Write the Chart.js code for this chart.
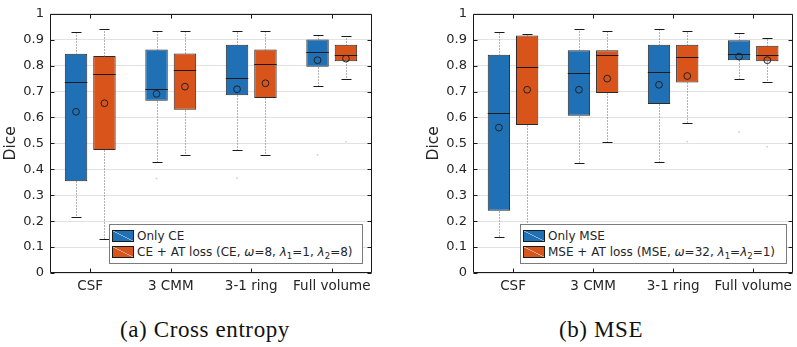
<!DOCTYPE html>
<html><head><meta charset="utf-8">
<script src="https://cdn.jsdelivr.net/npm/chart.js@4/dist/chart.umd.min.js"></script>
<style>
body{margin:0;background:#fff;width:797px;height:347px;position:relative;overflow:hidden;}
canvas{position:absolute;top:0;}
#ca{left:0px;}
#cb{left:423px;}
.legend{position:absolute;background:#fff;border:1px solid #7c7c7c;box-sizing:border-box;font:12px "DejaVu Sans";color:#262626;}
.row{position:absolute;left:2px;height:16px;line-height:16px;white-space:nowrap;}
.sw{position:absolute;left:0;top:2px;width:22px;height:12px;border:1px solid #1a1a1a;box-sizing:border-box;}
.lbl{position:absolute;left:25px;top:0;}
.lbl sub{font-size:8.5px;vertical-align:-3px;line-height:0;}
.lbl i{font-style:italic;}
.cap{position:absolute;top:317px;font:23px "Liberation Serif";letter-spacing:0.6px;color:#111;text-align:center;width:300px;white-space:nowrap;}
</style>
</head><body>
<canvas id="ca" width="400" height="300"></canvas>
<canvas id="cb" width="374" height="300"></canvas>
<div class="legend" id="lga" style="left:109px;top:224px;width:254px;height:40px"></div>
<div class="legend" id="lgb" style="left:520px;top:224px;width:267px;height:40px"></div>
<div class="cap" id="capa" style="left:55px"></div>
<div class="cap" id="capb" style="left:451px"></div>
<script>
const categories = ['CSF', '3 CMM', '3-1 ring', 'Full volume'];
const yTicks = [0, 0.1, 0.2, 0.3, 0.4, 0.5, 0.6, 0.7, 0.8, 0.9, 1];
const captions = ['(a) Cross entropy', '(b) MSE'];
const legendCE = ['Only CE', 'CE + AT loss (CE, <i>ω</i>=8, <i>λ</i><sub>1</sub>=1, <i>λ</i><sub>2</sub>=8)'];
const legendMSE = ['Only MSE', 'MSE + AT loss (MSE, <i>ω</i>=32, <i>λ</i><sub>1</sub>=<i>λ</i><sub>2</sub>=1)'];

// (a) Cross entropy — Only CE
const ceOnlyQ1   = [0.354, 0.665, 0.686, 0.796];
const ceOnlyQ3   = [0.846, 0.862, 0.881, 0.901];
const ceOnlyMed  = [0.735, 0.709, 0.754, 0.851];
const ceOnlyMean = [0.622, 0.691, 0.709, 0.821];
const ceOnlyLo   = [0.217, 0.427, 0.473, 0.721];
const ceOnlyHi   = [0.930, 0.934, 0.934, 0.918];
const ceOnlyOut  = [[], [0.365], [0.366], [0.456]];
// (a) Cross entropy — CE + AT loss
const ceAtQ1   = [0.475, 0.630, 0.675, 0.817];
const ceAtQ3   = [0.837, 0.847, 0.862, 0.881];
const ceAtMed  = [0.769, 0.784, 0.806, 0.840];
const ceAtMean = [0.655, 0.719, 0.732, 0.827];
const ceAtLo   = [0.132, 0.454, 0.454, 0.747];
const ceAtHi   = [0.941, 0.934, 0.934, 0.915];
const ceAtOut  = [[], [], [], [0.507]];
// (b) MSE — Only MSE
const mseOnlyQ1   = [0.240, 0.607, 0.652, 0.821];
const mseOnlyQ3   = [0.842, 0.859, 0.881, 0.898];
const mseOnlyMed  = [0.619, 0.772, 0.776, 0.844];
const mseOnlyMean = [0.561, 0.707, 0.726, 0.835];
const mseOnlyLo   = [0.139, 0.424, 0.427, 0.750];
const mseOnlyHi   = [0.930, 0.941, 0.941, 0.926];
const mseOnlyOut  = [[], [], [], [0.544]];
// (b) MSE — MSE + AT loss
const mseAtQ1   = [0.571, 0.694, 0.735, 0.817];
const mseAtQ3   = [0.916, 0.859, 0.881, 0.877];
const mseAtMed  = [0.795, 0.840, 0.832, 0.840];
const mseAtMean = [0.707, 0.750, 0.760, 0.821];
const mseAtLo   = [0.110, 0.507, 0.577, 0.735];
const mseAtHi   = [0.922, 0.934, 0.934, 0.907];
const mseAtOut  = [[], [], [0.507], [0.487]];

const BLUE = '#1f70b5', ORANGE = '#d9541a', TXT = '#262626';

const boxPlugin = {
  id: 'boxDecor',
  afterDatasetsDraw(chart) {
    const ctx = chart.ctx, ys = chart.scales.y;
    chart.data.datasets.forEach((ds, di) => {
      const meta = chart.getDatasetMeta(di);
      const s = ds.boxStats;
      meta.data.forEach((bar, i) => {
        const x = Math.round(bar.x) + 0.5, w = bar.width;
        const py = v => Math.round(ys.getPixelForValue(v)) + 0.5;
        ctx.save();
        ctx.strokeStyle = '#666'; ctx.lineWidth = 1; ctx.setLineDash([1, 2]);
        ctx.beginPath();
        ctx.moveTo(x, py(ds.data[i][1])); ctx.lineTo(x, py(s.hi[i]));
        ctx.moveTo(x, py(ds.data[i][0])); ctx.lineTo(x, py(s.lo[i]));
        ctx.stroke();
        ctx.setLineDash([]);
        ctx.strokeStyle = '#1a1a1a';
        ctx.beginPath();
        ctx.moveTo(x - 5, py(s.hi[i])); ctx.lineTo(x + 5, py(s.hi[i]));
        ctx.moveTo(x - 5, py(s.lo[i])); ctx.lineTo(x + 5, py(s.lo[i]));
        ctx.moveTo(bar.x - w / 2, py(s.med[i])); ctx.lineTo(bar.x + w / 2, py(s.med[i]));
        ctx.stroke();
        ctx.strokeStyle = '#222';
        ctx.beginPath();
        ctx.arc(bar.x, ys.getPixelForValue(s.mean[i]), 3.4, 0, Math.PI * 2);
        ctx.stroke();
        ctx.fillStyle = '#cfcfcf';
        s.out[i].forEach(v => {
          ctx.beginPath(); ctx.arc(bar.x, ys.getPixelForValue(v), 0.9, 0, Math.PI * 2); ctx.fill();
        });
        ctx.restore();
      });
    });
  },
  afterDraw(chart) {
    const ctx = chart.ctx, a = chart.chartArea, ys = chart.scales.y, xs = chart.scales.x;
    const L = Math.round(a.left) + 0.5, R = Math.round(a.right) - 0.5;
    const T = Math.round(a.top) + 0.5, B = Math.round(a.bottom) - 0.5;
    ctx.save();
    ctx.strokeStyle = '#1a1a1a'; ctx.lineWidth = 1;
    ctx.beginPath();
    ctx.rect(L, T, R - L, B - T);
    yTicks.forEach(v => {
      const y = Math.round(ys.getPixelForValue(v)) + 0.5;
      ctx.moveTo(L, y); ctx.lineTo(L + 4, y);
      ctx.moveTo(R, y); ctx.lineTo(R - 4, y);
    });
    categories.forEach((c, i) => {
      const x = Math.round(xs.getPixelForValue(i)) + 0.5;
      ctx.moveTo(x, B); ctx.lineTo(x, B - 4);
      ctx.moveTo(x, T); ctx.lineTo(x, T + 4);
    });
    ctx.stroke();
    ctx.restore();
  }
};

function makeDataset(label, color, q1, q3, med, mean, lo, hi, out) {
  return {
    label, backgroundColor: color, borderColor: '#2a2a2a', borderWidth: 1, borderSkipped: false,
    data: q1.map((v, i) => [v, q3[i]]),
    boxStats: { med, mean, lo, hi, out },
    categoryPercentage: 0.706, barPercentage: 0.79
  };
}

function makeChart(id, padRight, dsA, dsB) {
  return new Chart(document.getElementById(id), {
    type: 'bar',
    data: { labels: categories, datasets: [dsA, dsB] },
    plugins: [boxPlugin],
    options: {
      responsive: false, animation: false, devicePixelRatio: 1,
      layout: { padding: { top: 6, right: padRight, bottom: 0, left: 0 } },
      plugins: { legend: { display: false }, tooltip: { enabled: false } },
      scales: {
        x: {
          type: 'category',
          grid: { display: false, drawTicks: false },
          border: { display: false },
          ticks: { font: { family: 'DejaVu Sans', size: 13.5 }, color: TXT, padding: 5, maxRotation: 0, autoSkip: false },
          afterFit: s => { s.height = 27; }
        },
        y: {
          min: 0, max: 1,
          afterBuildTicks: s => { s.ticks = yTicks.map(v => ({ value: v })); },
          grid: { color: '#e2e2e2', lineWidth: 1, drawTicks: false },
          border: { display: false },
          ticks: { font: { family: 'DejaVu Sans', size: 13 }, color: TXT, padding: 6,
                   callback: v => String(Math.round(v * 10) / 10) },
          title: { display: true, text: 'Dice', font: { family: 'DejaVu Sans', size: 15.5 }, color: TXT, padding: { top: 2, bottom: 0 } },
          afterFit: s => { s.width = 50; }
        }
      }
    }
  });
}

makeChart('ca', 28,
  makeDataset('Only CE', BLUE, ceOnlyQ1, ceOnlyQ3, ceOnlyMed, ceOnlyMean, ceOnlyLo, ceOnlyHi, ceOnlyOut),
  makeDataset('CE + AT loss', ORANGE, ceAtQ1, ceAtQ3, ceAtMed, ceAtMean, ceAtLo, ceAtHi, ceAtOut));
makeChart('cb', 1,
  makeDataset('Only MSE', BLUE, mseOnlyQ1, mseOnlyQ3, mseOnlyMed, mseOnlyMean, mseOnlyLo, mseOnlyHi, mseOnlyOut),
  makeDataset('MSE + AT loss', ORANGE, mseAtQ1, mseAtQ3, mseAtMed, mseAtMean, mseAtLo, mseAtHi, mseAtOut));

function fillLegend(id, names) {
  const el = document.getElementById(id);
  const cols = [BLUE, ORANGE];
  el.innerHTML = names.map((n, i) =>
    `<div class="row" style="top:${3 + i * 16}px"><span class="sw" style="background:linear-gradient(to top right, ${cols[i]} 47%, rgba(200,220,240,0.8) 50%, ${cols[i]} 53%)"></span><span class="lbl">${n}</span></div>`
  ).join('');
}
fillLegend('lga', legendCE);
fillLegend('lgb', legendMSE);
document.getElementById('capa').textContent = captions[0];
document.getElementById('capb').textContent = captions[1];
</script>
</body></html>
